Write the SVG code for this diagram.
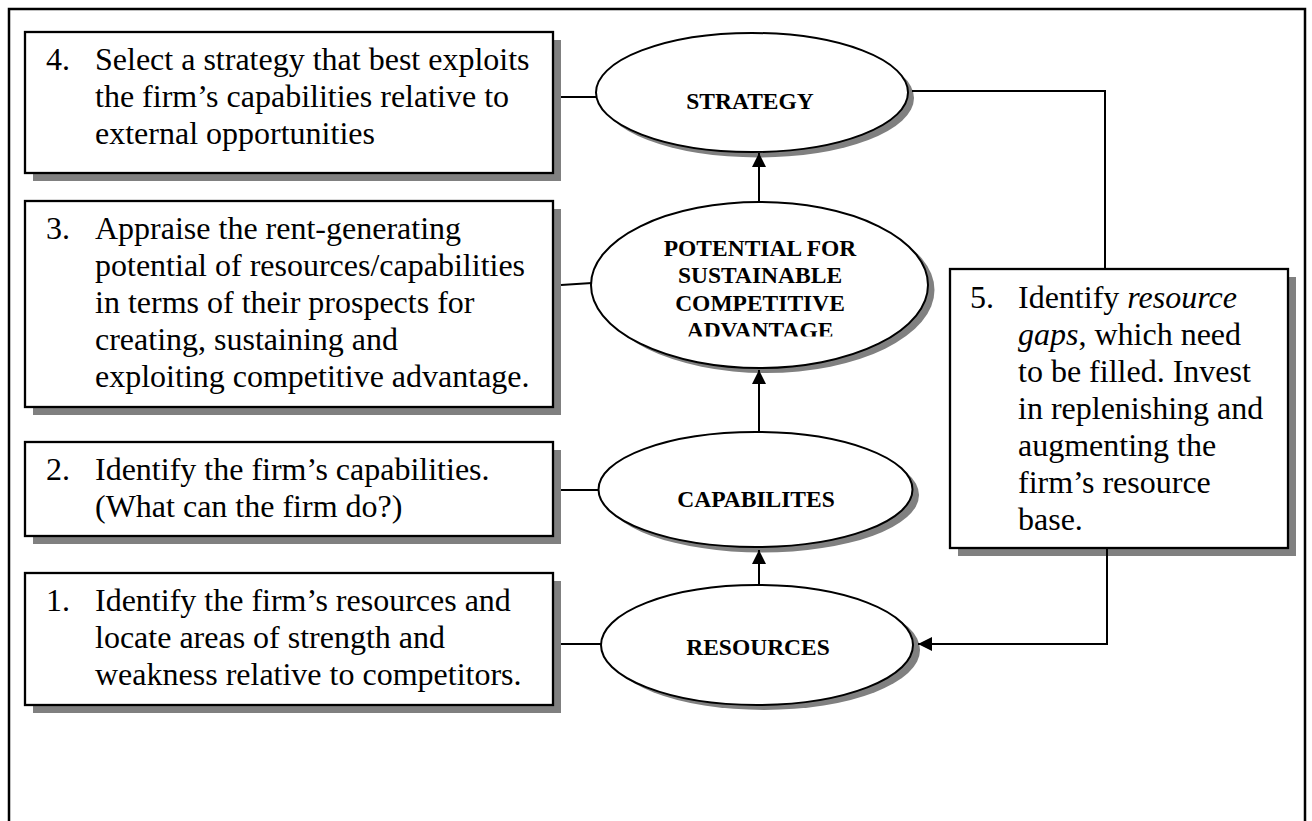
<svg xmlns="http://www.w3.org/2000/svg" width="1312" height="821" viewBox="0 0 1312 821">
  <defs>
    <style>
      .frame{fill:none;stroke:#000;stroke-width:2.5}
      .box{fill:#fff;stroke:#000;stroke-width:2.3}
      .shadow{fill:#808080}
      .ell{fill:#fff;stroke:#000;stroke-width:2}
      .txt{font-family:"Liberation Serif","Times New Roman",serif;font-size:32px;fill:#000}
      .lbl{font-family:"Liberation Serif","Times New Roman",serif;font-size:23.5px;font-weight:bold;fill:#000;text-anchor:middle}
      .conn{fill:none;stroke:#000;stroke-width:2}
    </style>
    <marker id="arrow" markerUnits="userSpaceOnUse" markerWidth="14" markerHeight="14" refX="14" refY="7" orient="auto">
      <path d="M0,0 L14,7 L0,14 z" fill="#000"/>
    </marker>
    <!-- the text frame inside the middle ellipse cuts off the foot of its last line -->
    <clipPath id="clip-potential">
      <rect x="590" y="200" width="340" height="136.5"/>
    </clipPath>
  </defs>

  <rect width="1312" height="821" fill="#fff"/>
  <!-- page frame, open at the bottom -->
  <path class="frame" d="M9,830 V9 H1305 V830"/>

  <!-- step boxes -->
  <g id="step4">
    <rect class="shadow" x="33" y="40" width="528" height="141"/>
    <rect class="box" x="25" y="32" width="528" height="141"/>
    <text class="txt" x="46" y="70">4.</text>
    <text class="txt" x="95" y="70">Select a strategy that best exploits</text>
    <text class="txt" x="95" y="107">the firm’s capabilities relative to</text>
    <text class="txt" x="95" y="144">external opportunities</text>
  </g>

  <g id="step3">
    <rect class="shadow" x="33" y="209" width="528" height="206"/>
    <rect class="box" x="25" y="201" width="528" height="206"/>
    <text class="txt" x="46" y="239">3.</text>
    <text class="txt" x="95" y="239">Appraise the rent-generating</text>
    <text class="txt" x="95" y="276">potential of resources/capabilities</text>
    <text class="txt" x="95" y="313">in terms of their prospects for</text>
    <text class="txt" x="95" y="350">creating, sustaining and</text>
    <text class="txt" x="95" y="387">exploiting competitive advantage.</text>
  </g>

  <g id="step2">
    <rect class="shadow" x="33" y="450" width="528" height="94"/>
    <rect class="box" x="25" y="442" width="528" height="94"/>
    <text class="txt" x="46" y="480">2.</text>
    <text class="txt" x="95" y="480">Identify the firm’s capabilities.</text>
    <text class="txt" x="95" y="517">(What can the firm do?)</text>
  </g>

  <g id="step1">
    <rect class="shadow" x="33" y="581" width="528" height="132"/>
    <rect class="box" x="25" y="573" width="528" height="132"/>
    <text class="txt" x="46" y="611">1.</text>
    <text class="txt" x="95" y="611">Identify the firm’s resources and</text>
    <text class="txt" x="95" y="648">locate areas of strength and</text>
    <text class="txt" x="95" y="685">weakness relative to competitors.</text>
  </g>

  <g id="step5">
    <rect class="shadow" x="958" y="277" width="338" height="279"/>
    <rect class="box" x="950" y="269" width="338" height="279"/>
    <text class="txt" x="970" y="308">5.</text>
    <text class="txt" x="1018" y="308">Identify <tspan font-style="italic">resource</tspan></text>
    <text class="txt" x="1018" y="345"><tspan font-style="italic">gaps</tspan>, which need</text>
    <text class="txt" x="1018" y="382">to be filled. Invest</text>
    <text class="txt" x="1018" y="419">in replenishing and</text>
    <text class="txt" x="1018" y="456">augmenting the</text>
    <text class="txt" x="1018" y="493">firm’s resource</text>
    <text class="txt" x="1018" y="530">base.</text>
  </g>

  <!-- central chain of ellipses -->
  <g id="strategy">
    <ellipse class="shadow" cx="758" cy="98" rx="156" ry="59.5"/>
    <ellipse class="ell" cx="752" cy="92.5" rx="156" ry="59.5"/>
    <text class="lbl" x="750" y="109">STRATEGY</text>
  </g>

  <g id="potential">
    <ellipse class="shadow" cx="766" cy="290" rx="168.5" ry="83"/>
    <ellipse class="ell" cx="759.5" cy="285" rx="168.5" ry="83"/>
    <g clip-path="url(#clip-potential)">
      <text class="lbl" x="760" y="256">POTENTIAL FOR</text>
      <text class="lbl" x="760" y="283">SUSTAINABLE</text>
      <text class="lbl" x="760" y="310.5">COMPETITIVE</text>
      <text class="lbl" x="760" y="338">ADVANTAGE</text>
    </g>
  </g>

  <g id="capabilities">
    <ellipse class="shadow" cx="762" cy="495" rx="157" ry="57.5"/>
    <ellipse class="ell" cx="755.5" cy="489.5" rx="157" ry="57.5"/>
    <text class="lbl" x="756" y="507">CAPABILITES</text>
  </g>

  <g id="resources">
    <ellipse class="shadow" cx="764" cy="650" rx="156" ry="60"/>
    <ellipse class="ell" cx="757" cy="645" rx="156" ry="60"/>
    <text class="lbl" x="758" y="655">RESOURCES</text>
  </g>

  <!-- connectors -->
  <g id="connectors">
    <line class="conn" x1="561" y1="97" x2="597" y2="97"/>
    <line class="conn" x1="561" y1="285" x2="592" y2="283"/>
    <line class="conn" x1="561" y1="490" x2="599" y2="490"/>
    <line class="conn" x1="561" y1="644" x2="602" y2="644"/>
    <line class="conn" x1="759" y1="202" x2="759" y2="153" marker-end="url(#arrow)"/>
    <line class="conn" x1="759" y1="432" x2="759" y2="370" marker-end="url(#arrow)"/>
    <line class="conn" x1="759" y1="585" x2="759" y2="550" marker-end="url(#arrow)"/>
    <path class="conn" d="M912,91 H1105 V269"/>
    <path class="conn" d="M1107,548 V644 H918" marker-end="url(#arrow)"/>
  </g>
</svg>
